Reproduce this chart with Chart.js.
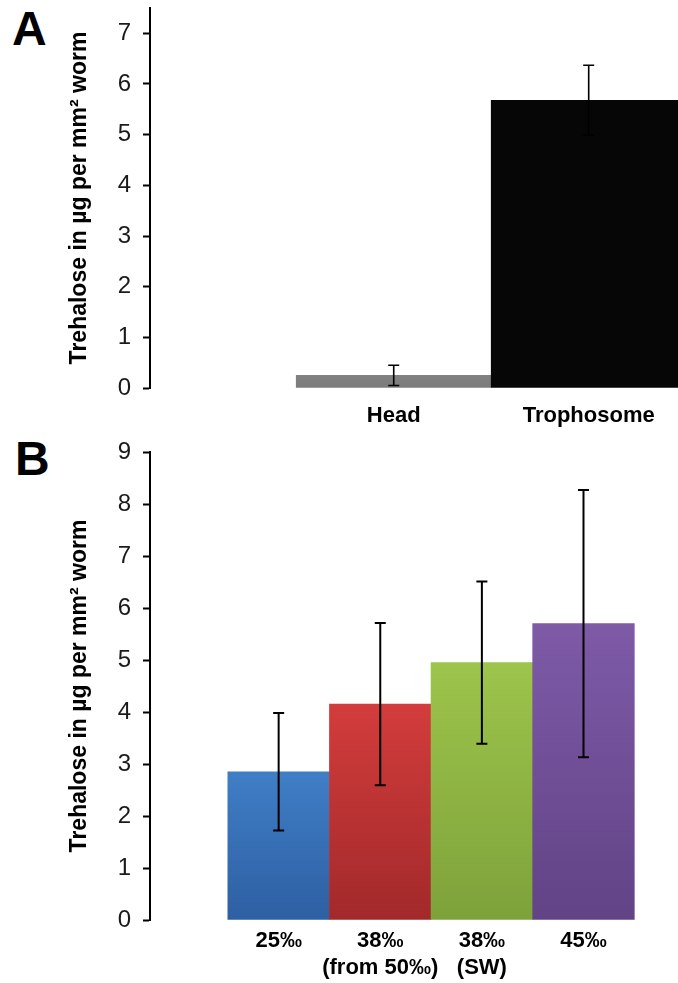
<!DOCTYPE html>
<html>
<head>
<meta charset="utf-8">
<script src="https://cdn.jsdelivr.net/npm/chart.js@4"></script>
<style>
  body { margin: 0; background: #fff; }
  #wrap { position: relative; width: 678px; height: 983px; overflow: hidden; }
  canvas { position: absolute; left: 0; }
  .panel { position: absolute; font: bold 48px "Liberation Sans", Arial, sans-serif; line-height: 1; color: #000; }
</style>
</head>
<body>
<div id="wrap">
  <div class="panel" style="left:12px; top:5px;">A</div>
  <div class="panel" style="left:15px; top:435px;">B</div>
  <canvas id="chartA" width="678" height="430" style="top:0"></canvas>
  <canvas id="chartB" width="678" height="553" style="top:430px"></canvas>
</div>

<script>
  // panel A
  const catsA = ['Head', 'Trophosome'];
  const valsA = [0.25, 5.68];
  const errA = [0.2, 0.69];
  const ticksA = [0, 1, 2, 3, 4, 5, 6, 7];
  const topColA = ['#818181', '#060606'];
  const botColA = ['#7c7c7c', '#060606'];

  // panel B
  const catsB = [['25‰'], ['38‰', '(from 50‰)'], ['38‰', '(SW)'], ['45‰']];
  const valsB = [2.85, 4.15, 4.95, 5.70];
  const errB = [1.13, 1.56, 1.56, 2.57];
  const ticksB = [0, 1, 2, 3, 4, 5, 6, 7, 8, 9];
  const topColB = ['#3f7ec6', '#d33c3c', '#9dc44b', '#7e5aa7'];
  const botColB = ['#2e5fa3', '#a2292a', '#7ea23b', '#624386'];

  const yTitle = 'Trehalose in µg per mm² worm';
  const FONT = '"Liberation Sans", Arial, sans-serif';

  const errorBars = {
    id: 'errorBars',
    afterDatasetsDraw(chart, args, opts) {
      const { ctx, scales: { x, y } } = chart;
      const pts = chart.data.datasets[0].data;
      ctx.save();
      ctx.strokeStyle = '#000';
      ctx.lineWidth = opts.width;
      pts.forEach((p, i) => {
        const px = x.getPixelForValue(p.x);
        const top = y.getPixelForValue(p.y + opts.errors[i]);
        const bot = y.getPixelForValue(p.y - opts.errors[i]);
        ctx.beginPath();
        ctx.moveTo(px, top); ctx.lineTo(px, bot);
        ctx.moveTo(px - opts.cap, top); ctx.lineTo(px + opts.cap, top);
        ctx.moveTo(px - opts.cap, bot); ctx.lineTo(px + opts.cap, bot);
        ctx.stroke();
      });
      ctx.restore();
    }
  };

  function gradient(tops, bots) {
    return c => {
      const chart = c.chart;
      if (!chart.chartArea || c.type !== 'data') return tops[c.dataIndex];
      const y = chart.scales.y;
      const g = chart.ctx.createLinearGradient(0, y.getPixelForValue(c.parsed.y), 0, y.getPixelForValue(0));
      g.addColorStop(0, tops[c.dataIndex]);
      g.addColorStop(1, bots[c.dataIndex]);
      return g;
    };
  }

  function makeChart(id, cats, vals, errs, yTicks, tops, bots, opt) {
    return new Chart(document.getElementById(id), {
      type: 'bar',
      data: {
        datasets: [{
          data: vals.map((v, i) => ({ x: i + 1, y: v })),
          backgroundColor: gradient(tops, bots),
          borderWidth: 0,
          categoryPercentage: 1,
          barPercentage: 1
        }]
      },
      options: {
        responsive: false,
        animation: false,
        devicePixelRatio: 1,
        layout: { padding: { top: opt.padTop, left: 0, right: 0, bottom: 0 } },
        plugins: {
          legend: { display: false },
          tooltip: { enabled: false },
          errorBars: { errors: errs, cap: 5.5, width: opt.errWidth }
        },
        scales: {
          x: {
            type: 'linear',
            min: opt.xMin,
            max: opt.xMax,
            offset: false,
            afterBuildTicks: s => { s.ticks = cats.map((_, i) => ({ value: i + 1 })); },
            ticks: {
              callback: v => cats[v - 1],
              autoSkip: false,
              maxRotation: 0,
              padding: opt.xPad,
              color: '#000',
              font: { family: FONT, size: 22, weight: 'bold', lineHeight: 1.2 }
            },
            grid: { display: false, drawTicks: false },
            border: { display: false },
            afterFit: s => { s.height = opt.xHeight; s.paddingLeft = 0; s.paddingRight = 0; }
          },
          y: {
            min: 0,
            max: opt.yMax,
            afterBuildTicks: s => { s.ticks = yTicks.map(v => ({ value: v })); },
            ticks: {
              padding: 12,
              color: '#1a1a1a',
              font: { family: FONT, size: 24 }
            },
            grid: { drawOnChartArea: false, drawTicks: true, tickLength: 7, tickWidth: 2, tickColor: '#000' },
            border: { display: true, color: '#000', width: 2 },
            title: {
              display: true,
              text: yTitle,
              color: '#000',
              font: { family: FONT, size: 23, weight: 'bold' },
              padding: { top: 66, bottom: 0 }
            },
            afterFit: s => { s.width = 150; s.paddingTop = 0; s.paddingBottom = 0; }
          }
        }
      },
      plugins: [errorBars]
    });
  }

  makeChart('chartA', catsA, valsA, errA, ticksA, topColA, botColA,
    { padTop: 8, xHeight: 42, xMin: -0.25, xMax: 2.458, yMax: 7.5, xPad: 15, errWidth: 1.6 });
  makeChart('chartB', catsB, valsB, errB, ticksB, topColB, botColB,
    { padTop: 22, xHeight: 63, xMin: -0.266, xMax: 4.93, yMax: 9, xPad: 8, errWidth: 2 });
</script>
</body>
</html>
